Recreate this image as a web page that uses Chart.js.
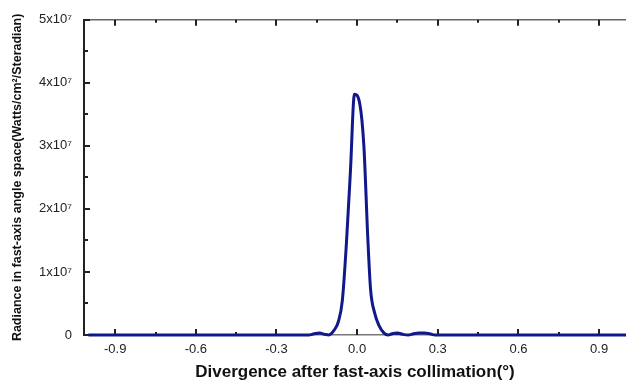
<!DOCTYPE html>
<html><head><meta charset="utf-8">
<script src="https://cdn.jsdelivr.net/npm/chart.js@4/dist/chart.umd.min.js"></script>
<style>html,body{margin:0;padding:0;background:#fff}#wrap{width:626px;height:384px}</style>
</head><body><div id="wrap"><canvas id="c" width="626" height="384"></canvas></div>
<script>
// Divergence (degrees)
const divergence = [-1.0, -0.18, -0.16, -0.14, -0.12, -0.105, -0.085, -0.07, -0.055, -0.04, -0.025, -0.01, 0.01, 0.025, 0.04, 0.05, 0.065, 0.08, 0.1, 0.115, 0.13, 0.15, 0.17, 0.19, 0.21, 0.23, 0.25, 0.27, 0.29, 1.0];
// Radiance (Watts/cm^2/Steradian)
const radiance = [0, 0, 0.02e7, 0.03e7, 0.01e7, 0, 0.08e7, 0.21e7, 0.55e7, 1.45e7, 2.6e7, 3.82e7, 3.66e7, 3.0e7, 1.5e7, 0.72e7, 0.35e7, 0.16e7, 0.03e7, 0, 0.02e7, 0.03e7, 0.01e7, 0, 0.02e7, 0.03e7, 0.03e7, 0.02e7, 0, 0];
const xTickValues = [-0.9, -0.6, -0.3, 0.0, 0.3, 0.6, 0.9];
const xTickLabels = ['-0.9', '-0.6', '-0.3', '0.0', '0.3', '0.6', '0.9'];
const xMinorValues = [-0.75, -0.45, -0.15, 0.15, 0.45, 0.75];
const yTickValues = [0, 1e7, 2e7, 3e7, 4e7, 5e7];
const yTickLabels = ['0', '1x10\u2077', '2x10\u2077', '3x10\u2077', '4x10\u2077', '5x10\u2077'];
const yMinorValues = [0.5e7, 1.5e7, 2.5e7, 3.5e7, 4.5e7];

const axisDeco = {
  id: 'axisDeco',
  beforeDatasetsDraw(chart) {
    const {ctx, chartArea: a, scales: {x, y}} = chart;
    ctx.save();
    ctx.strokeStyle = '#666';
    ctx.lineWidth = 1.5;
    ctx.beginPath(); ctx.moveTo(a.left, a.top); ctx.lineTo(a.right, a.top); ctx.stroke();
    ctx.strokeStyle = '#222';
    ctx.lineWidth = 2;
    const vt = (v, len) => {
      const px = Math.round(x.getPixelForValue(v));
      ctx.beginPath(); ctx.moveTo(px, a.bottom); ctx.lineTo(px, a.bottom - len); ctx.stroke();
      ctx.beginPath(); ctx.moveTo(px, a.top); ctx.lineTo(px, a.top + len); ctx.stroke();
    };
    xTickValues.forEach(v => vt(v, 6));
    xMinorValues.forEach(v => vt(v, 3));
    const ht = (v, len) => {
      const py = Math.round(y.getPixelForValue(v));
      ctx.beginPath(); ctx.moveTo(a.left, py); ctx.lineTo(a.left + len, py); ctx.stroke();
    };
    yTickValues.forEach(v => ht(v, 6));
    yMinorValues.forEach(v => ht(v, 4));
    ctx.restore();
  }
};

new Chart(document.getElementById('c'), {
  type: 'line',
  data: {
    datasets: [{
      data: divergence.map((d, i) => ({x: d, y: radiance[i]})),
      borderColor: '#10188a',
      borderWidth: 3,
      pointRadius: 0,
      fill: false,
      cubicInterpolationMode: 'monotone',
      clip: false
    }]
  },
  options: {
    responsive: false,
    animation: false,
    events: [],
    layout: {padding: {top: 19, right: 0, bottom: 0, left: 0}},
    plugins: {legend: {display: false}, tooltip: {enabled: false}},
    scales: {
      x: {
        type: 'linear', min: -1.016, max: 1.0,
        afterBuildTicks: s => { s.ticks = xTickValues.map(v => ({value: v})); },
        afterFit: s => { s.height = 49; },
        grid: {display: false, drawTicks: false},
        border: {display: true, color: '#777', width: 1.5},
        ticks: {
          padding: 7, color: '#222', maxRotation: 0, autoSkip: false,
          font: {family: 'Liberation Sans', size: 13},
          callback: (v) => { const i = xTickValues.findIndex(t => Math.abs(t - v) < 1e-9); return i >= 0 ? xTickLabels[i] : ''; }
        },
        title: {
          display: true, text: 'Divergence after fast-axis collimation(\u00B0)',
          color: '#111', font: {family: 'Liberation Sans', size: 17, weight: 'bold'},
          padding: {top: 0, bottom: 1}
        }
      },
      y: {
        type: 'linear', min: 0, max: 5e7,
        afterBuildTicks: s => { s.ticks = yTickValues.map(v => ({value: v})); },
        afterFit: s => { s.width = 84; },
        grid: {display: false, drawTicks: false},
        border: {display: true, color: '#222', width: 2},
        ticks: {
          padding: 12, color: '#222',
          font: {family: 'Liberation Sans', size: 13},
          callback: (v) => { const i = yTickValues.findIndex(t => Math.abs(t - v) < 1); return i >= 0 ? yTickLabels[i] : ''; }
        },
        title: {
          display: true, text: 'Radiance in fast-axis angle space(Watts/cm\u00B2/Steradian)',
          color: '#111', font: {family: 'Liberation Sans', size: 12.5, weight: 'bold'},
          padding: {top: 10, bottom: 0}
        }
      }
    }
  },
  plugins: [axisDeco]
});
</script>
</body></html>
